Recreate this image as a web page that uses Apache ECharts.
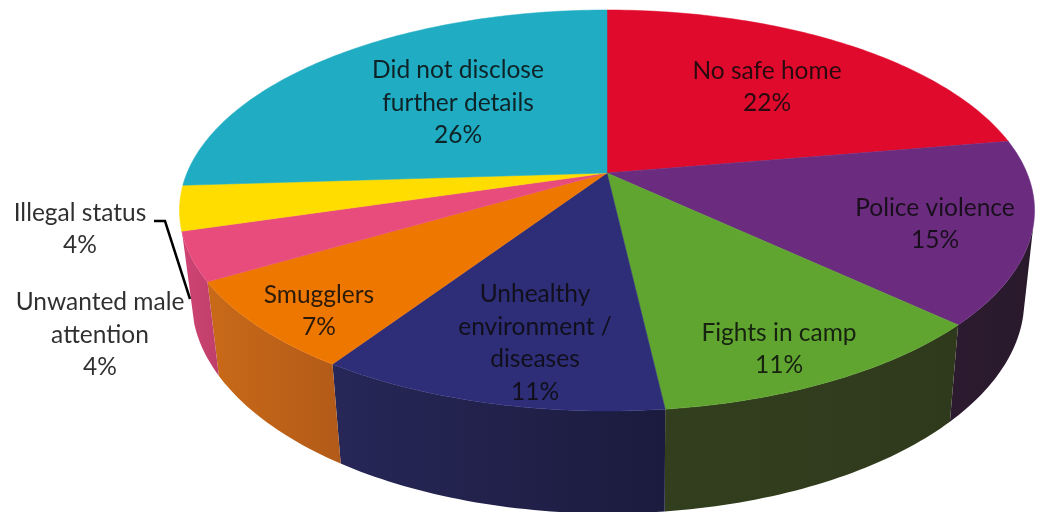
<!DOCTYPE html>
<html>
<head>
<meta charset="utf-8">
<style>html,body{margin:0;padding:0;background:#fff;overflow:hidden}#c{width:1041px;height:512px}</style>
<script src="https://cdn.jsdelivr.net/npm/echarts@6/dist/echarts.min.js"></script>
</head>
<body>
<div id="c"></div>
<script>
// Data (share of responses, %)
const categories = ['No safe home', 'Police violence', 'Fights in camp', 'Unhealthy\nenvironment /\ndiseases', 'Smugglers', 'Unwanted male\nattention', 'Illegal status', 'Did not disclose\nfurther details'];
const values = [22.3, 14.7, 11.2, 11.1, 7.2, 3.9, 3.6, 26];

// Styles
const topColors = ['#e00a2d', '#6b2c80', '#5fa52f', '#2e2d78', '#ee7700', '#e84c7d', '#ffdd00', '#20acc3'];
const wallLeft = ['#000', '#2c1b30', '#323f1e', '#272758', '#c96a18', '#cf4475', '#000', '#000'];
const wallRight = ['#000', '#29192b', '#2f3a1c', '#1b1b3e', '#b25a18', '#bf3f69', '#000', '#000'];
const labelCentres = [[767, 87], [935, 224], [779, 349], [535, 343], [319, 311], [100, 335], [80, 229], [458, 103]];
const leader = [[154, 221], [165, 221], [190, 299]];

// Perspective projection of the pie's top and bottom discs
const topDisc = { cx: 607, cy: 173, a: 420, b: 193.5 };
const baseDisc = { cx: 608, cy: 260, a: 409, b: 206 };
const tilt = -0.187;
const wallFrom = 105, wallTo = 253;

function project(disc, deg) {
  const t = deg * Math.PI / 180, u = Math.sin(t), v = -Math.cos(t), w = 1 + tilt * v;
  return [disc.cx + disc.a * u / w, disc.cy + disc.b * v / w];
}
function arc(disc, from, to) {
  const pts = [], n = Math.max(2, Math.ceil(Math.abs(to - from)));
  for (let i = 0; i <= n; i++) pts.push(project(disc, from + (to - from) * i / n));
  return pts;
}
const total = values.reduce((s, v) => s + v, 0);
function startOf(i) {
  let c = 0;
  for (let k = 0; k < i; k++) c += values[k];
  return c / total * 360;
}

function renderItem(params, api) {
  const i = params.dataIndex, v = api.value(0);
  const a0 = startOf(i), a1 = a0 + v / total * 360;
  const children = [];
  const from = Math.max(a0, wallFrom), to = Math.min(a1, wallTo);
  if (to > from) {
    const pts = arc(topDisc, from, to).concat(arc(baseDisc, from, to).reverse());
    children.push({
      type: 'polygon', z2: 1, shape: { points: pts },
      style: {
        fill: new echarts.graphic.LinearGradient(0, 0, 1, 0, [
          { offset: 0, color: wallLeft[i] },
          { offset: 1, color: wallRight[i] }
        ])
      }
    });
  }
  children.push({
    type: 'polygon', z2: 2,
    shape: { points: [[topDisc.cx, topDisc.cy]].concat(arc(topDisc, a0, a1)) },
    style: { fill: topColors[i], stroke: topColors[i], lineWidth: 0.5 }
  });
  children.push({
    type: 'text', z2: 3, x: labelCentres[i][0], y: labelCentres[i][1],
    style: {
      text: categories[i] + '\n' + Math.round(v) + '%',
      align: 'center', verticalAlign: 'middle',
      font: '24.5px Lato', lineHeight: 32.5, fill: 'rgba(10,10,10,0.85)'
    }
  });
  return { type: 'group', children };
}

const chart = echarts.init(document.getElementById('c'), null, { renderer: 'canvas' });
chart.setOption({
  animation: false,
  backgroundColor: '#fff',
  series: [{
    type: 'custom', coordinateSystem: 'none', silent: true,
    renderItem, data: values.map(v => [v])
  }],
  graphic: [{
    type: 'polyline', z: 100, shape: { points: leader },
    style: { stroke: '#000', lineWidth: 2.5, fill: 'none' }
  }]
});
</script>
</body>
</html>
